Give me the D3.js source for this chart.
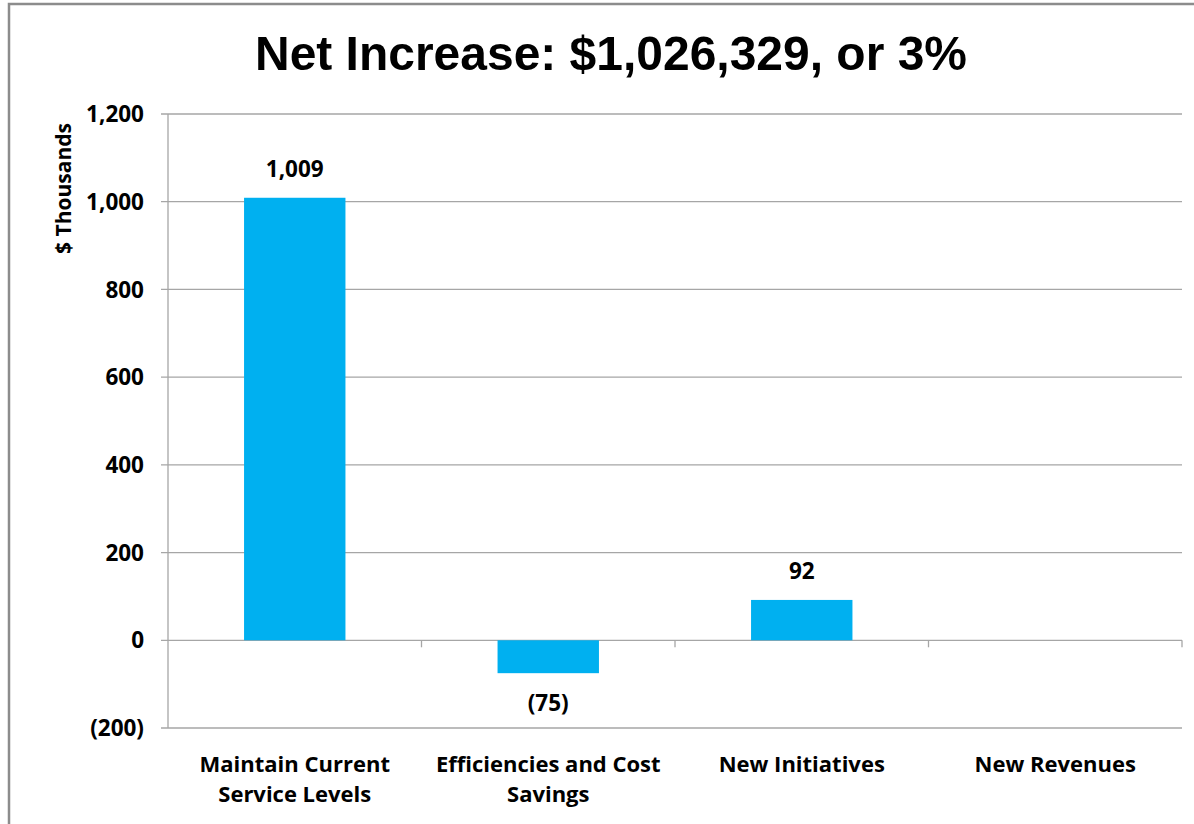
<!DOCTYPE html>
<html>
<head>
<meta charset="utf-8">
<script src="https://cdn.jsdelivr.net/npm/d3@7"></script>
<style>
  body { margin: 0; background: #fff; }
  svg text { fill: #000; }
</style>
</head>
<body>
<div id="chart"></div>
<script>
// data
const categories = [["Maintain Current", "Service Levels"], ["Efficiencies and Cost", "Savings"], ["New Initiatives"], ["New Revenues"]];
const values = [1009, -75, 92, null];
const tickValues = [-200, 0, 200, 400, 600, 800, 1000, 1200];
const titleText = "Net Increase: $1,026,329, or 3%";
const yLabel = "$ Thousands";

const W = 1194, H = 824;
const margin = { top: 114, right: 12, bottom: 96, left: 168 };
const width = W - margin.left - margin.right;
const height = H - margin.top - margin.bottom;

const fmt = v => v < 0 ? `(${d3.format(",")(-v)})` : d3.format(",")(v);
const labelFont = "'Open Sans', sans-serif";

const svg = d3.select("#chart").append("svg")
    .attr("width", W)
    .attr("height", H);

// outer frame
svg.append("rect")
    .attr("x", 9).attr("y", 4)
    .attr("width", W).attr("height", H)
    .attr("fill", "none")
    .attr("stroke", "#8c8c8c")
    .attr("stroke-width", 2.5);

// title
svg.append("text")
    .attr("x", 611).attr("y", 70)
    .attr("text-anchor", "middle")
    .attr("textLength", 712)
    .attr("lengthAdjust", "spacingAndGlyphs")
    .style("font-family", "'Liberation Sans', Arial, sans-serif")
    .style("font-weight", "bold")
    .style("font-size", "49px")
    .text(titleText);

const g = svg.append("g").attr("transform", `translate(${margin.left},${margin.top})`);

const x = d3.scaleBand().domain(d3.range(categories.length)).range([0, width]).paddingInner(0.6).paddingOuter(0.3);
const xTicks = d3.scaleLinear().domain([0, categories.length]).range([0, width]);
const y = d3.scaleLinear().domain([-200, 1200]).range([height, 0]);

// gridlines
g.append("g").selectAll("line")
    .data(tickValues)
    .join("line")
    .attr("x1", -7).attr("x2", width)
    .attr("y1", d => y(d)).attr("y2", d => y(d))
    .attr("stroke", "#a6a6a6")
    .attr("stroke-width", 1.3);

// left axis line
g.append("line")
    .attr("x1", 0).attr("x2", 0)
    .attr("y1", 0).attr("y2", height)
    .attr("stroke", "#a6a6a6")
    .attr("stroke-width", 1.3);

// y tick labels
g.append("g").selectAll("text")
    .data(tickValues)
    .join("text")
    .attr("x", -24)
    .attr("y", d => y(d))
    .attr("dy", "0.36em")
    .attr("text-anchor", "end")
    .style("font-family", labelFont)
    .style("font-weight", "bold")
    .style("font-size", "22.5px")
    .text(fmt);

// category ticks along zero line
g.append("g").selectAll("line")
    .data(d3.range(1, categories.length + 1))
    .join("line")
    .attr("x1", d => xTicks(d)).attr("x2", d => xTicks(d))
    .attr("y1", y(0)).attr("y2", y(0) + 7)
    .attr("stroke", "#a6a6a6")
    .attr("stroke-width", 1.3);

// bars
const barData = values.map((v, i) => ({ i, v })).filter(d => d.v !== null);
g.selectAll(".bar")
    .data(barData)
    .join("rect")
    .attr("class", "bar")
    .attr("x", d => x(d.i))
    .attr("width", x.bandwidth())
    .attr("y", d => y(Math.max(0, d.v)))
    .attr("height", d => Math.abs(y(d.v) - y(0)))
    .attr("fill", "#00b0f0");

// data labels
g.selectAll(".label")
    .data(barData)
    .join("text")
    .attr("class", "label")
    .attr("x", d => x(d.i) + x.bandwidth() / 2)
    .attr("y", d => d.v >= 0 ? y(d.v) - 21 : y(d.v) + 38)
    .attr("text-anchor", "middle")
    .style("font-family", labelFont)
    .style("font-weight", "bold")
    .style("font-size", "22.5px")
    .text(d => fmt(d.v));

// category labels
const cat = g.append("g").selectAll("text")
    .data(categories)
    .join("text")
    .attr("x", (d, i) => x(i) + x.bandwidth() / 2)
    .attr("y", height + 44)
    .attr("text-anchor", "middle")
    .style("font-family", labelFont)
    .style("font-weight", "bold")
    .style("font-size", "22px");
cat.selectAll("tspan")
    .data(d => d)
    .join("tspan")
    .attr("x", function () { return d3.select(this.parentNode).attr("x"); })
    .attr("dy", (d, i) => i === 0 ? 0 : 30)
    .text(d => d);

// y axis title
svg.append("text")
    .attr("transform", "translate(71,123) rotate(-90)")
    .attr("text-anchor", "end")
    .style("font-family", labelFont)
    .style("font-weight", "bold")
    .style("font-size", "21px")
    .text(yLabel);
</script>
</body>
</html>
